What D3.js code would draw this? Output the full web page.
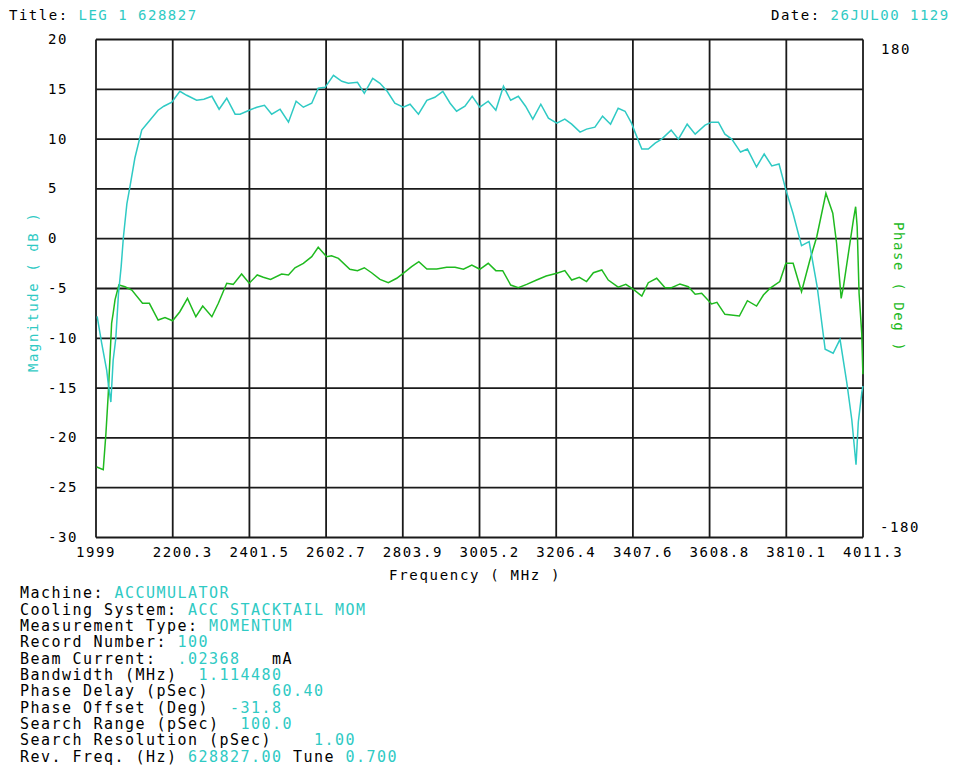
<!DOCTYPE html>
<html>
<head>
<meta charset="utf-8">
<script src="https://cdn.jsdelivr.net/npm/d3@7"></script>
<style>
  body { margin: 0; background: #fff; }
  svg text { font-family: "DejaVu Sans Mono", monospace; white-space: pre; }
</style>
</head>
<body>
<svg id="chart" width="953" height="767"></svg>
<script>
// tick labels
var freqTicks = ["1999", "2200.3", "2401.5", "2602.7", "2803.9", "3005.2", "3206.4", "3407.6", "3608.8", "3810.1", "4011.3"];
var magTicks = [20, 15, 10, 5, 0, -5, -10, -15, -20, -25, -30];
var phaseTicks = [180, -180];

// magnitude trace (MHz, dB)
var magFreq = [2002, 2014, 2027, 2032, 2038, 2044, 2051, 2058, 2065, 2071, 2080, 2088, 2101, 2119, 2136, 2162, 2177, 2198,
  2219, 2237, 2263, 2282, 2303, 2322, 2342, 2364, 2377, 2401, 2421, 2441, 2460, 2482, 2504, 2524, 2543, 2565, 2582, 2600,
  2622, 2644, 2661, 2685, 2703, 2725, 2744, 2763, 2783, 2805, 2823, 2845, 2867, 2888, 2909, 2928, 2945, 2967, 2986, 3006,
  3028, 3048, 3068, 3087, 3107, 3126, 3145, 3166, 3186, 3208, 3229, 3247, 3269, 3286, 3308, 3328, 3349, 3369, 3387, 3404,
  3413, 3431, 3448, 3466, 3483, 3508, 3527, 3550, 3571, 3597, 3614, 3632, 3649, 3667, 3690, 3708, 3732, 3752, 3772, 3791,
  3809, 3828, 3850, 3870, 3891, 3912, 3933, 3951, 3969, 3982, 3993, 3999, 4008, 4011];
var magDb = [-7.8, -10.5, -13.2, -14.8, -16.4, -12.2, -10.0, -5.5, -2.8, 0.2, 3.5, 5.2, 8.1, 10.9, 11.7, 12.9, 13.3, 13.7,
  14.8, 14.4, 13.9, 14.0, 14.3, 13.0, 14.1, 12.5, 12.5, 12.9, 13.2, 13.4, 12.5, 13.0, 11.7, 13.8, 13.2, 13.6, 15.1, 15.2,
  16.4, 15.8, 15.6, 15.7, 14.6, 16.1, 15.6, 14.8, 13.6, 13.2, 13.5, 12.5, 13.9, 14.2, 14.8, 13.6, 12.8, 13.3, 14.3, 13.2,
  13.8, 12.9, 15.3, 13.9, 14.3, 13.3, 12.0, 13.5, 12.1, 11.6, 12.0, 11.5, 10.7, 11.0, 11.2, 12.3, 11.5, 13.1, 12.8, 11.6,
  10.7, 9.0, 9.0, 9.6, 10.0, 10.9, 10.0, 11.5, 10.5, 11.4, 11.7, 11.7, 10.5, 10.0, 8.7, 9.0, 7.2, 8.5, 7.3, 7.5,
  4.9, 2.5, -0.7, -0.3, -4.8, -11.1, -11.5, -10.1, -14.5, -18.2, -22.7, -18.4, -15.5, -14.8];

// phase trace (MHz, deg)
var phaseFreq = [2001, 2018, 2025, 2031, 2040, 2044, 2049, 2059, 2075, 2093, 2121, 2139, 2162, 2180, 2200, 2219, 2239,
  2261, 2279, 2303, 2320, 2342, 2359, 2381, 2401, 2422, 2438, 2457, 2486, 2504, 2521, 2543, 2565, 2582, 2604, 2617, 2635,
  2665, 2685, 2703, 2722, 2744, 2766, 2788, 2805, 2827, 2846, 2867, 2893, 2919, 2941, 2963, 2985, 3006, 3028, 3048, 3066,
  3087, 3107, 3129, 3155, 3180, 3208, 3229, 3247, 3267, 3286, 3304, 3326, 3343, 3369, 3389, 3409, 3431, 3448, 3470, 3492,
  3509, 3531, 3553, 3571, 3588, 3614, 3628, 3649, 3687, 3708, 3732, 3750, 3767, 3793, 3809, 3828, 3850, 3872, 3890, 3914,
  3932, 3942, 3954, 3960, 3973, 3986, 3992, 3996, 4001, 4008, 4011];
var phaseDeg = [-129, -131, -105, -77, -25, -18, -8, 2.5, 1.3, -1.1, -10.7, -10.7, -22.8, -21, -23.3, -16.8, -7.1,
  -20.4, -12.7, -20.4, -10.7, 3.8, 3.0, 10.5, 3.8, 9.8, 8.1, 6.6, 10.5, 9.8, 15, 18.2, 23.0, 29.8, 23.0, 23.7, 21.8,
  13.9, 12.9, 15.0, 11.4, 6.6, 4.2, 7.4, 11.0, 15.8, 19.4, 14.1, 14.1, 15.3, 15.3, 13.9, 17.0, 13.9, 18.2, 12.9, 12.9,
  2.5, 0.6, 3.0, 6.1, 9.0, 11.0, 12.9, 6.1, 8.1, 5.0, 11.4, 13.4, 6.1, 1.0, 3.0, -0.6, -5.4, 4.2, 7.4, 0.6,
  0.6, 3.3, 1.3, -4.2, -3.5, -11.2, -10.0, -18.7, -19.9, -8.8, -12.7, -4.7, 0.1, 5.0, 18.2, 18.2, -2.3, 20.6, 37.4, 68.8,
  54.4, 32.7, -7.1, 1.3, 25.4, 49.5, 59.1, 44.7, -3.5, -32.4, -62];

// header + info block: [text, colour key]
var titleParts = [["Title: ", "k"], ["LEG 1 628827", "c"]];
var dateParts = [["Date: ", "k"], ["26JUL00 1129", "c"]];
var infoLines = [
  [["Machine: ", "k"], ["ACCUMULATOR", "c"]],
  [["Cooling System: ", "k"], ["ACC STACKTAIL MOM", "c"]],
  [["Measurement Type: ", "k"], ["MOMENTUM", "c"]],
  [["Record Number: ", "k"], ["100", "c"]],
  [["Beam Current:  ", "k"], [".02368", "c"], ["   mA", "k"]],
  [["Bandwidth (MHz)  ", "k"], ["1.114480", "c"]],
  [["Phase Delay (pSec)      ", "k"], ["60.40", "c"]],
  [["Phase Offset (Deg)  ", "k"], ["-31.8", "c"]],
  [["Search Range (pSec)  ", "k"], ["100.0", "c"]],
  [["Search Resolution (pSec)    ", "k"], ["1.00", "c"]],
  [["Rev. Freq. (Hz) ", "k"], ["628827.00", "c"], [" Tune ", "k"], ["0.700", "c"]]
];

var cyan = "#2fcac4";
var green = "#1fba1f";
var colours = { k: "#000", c: cyan };

var svg = d3.select("#chart");
var plotL = 96, plotR = 863, plotT = 39.5, plotB = 537.5;

var x = d3.scaleLinear().domain([1999, 4011.3]).range([plotL, plotR]);
var yMag = d3.scaleLinear().domain([-30, 20]).range([plotB, plotT]);
var yPh = d3.scaleLinear().domain([-180, 180]).range([plotB, plotT]);

// grid
var grid = svg.append("g").attr("stroke", "#1a1a1a").attr("stroke-width", 1.8);
grid.selectAll(".vx").data(freqTicks).enter().append("line")
    .attr("x1", d => x(+d)).attr("x2", d => x(+d))
    .attr("y1", plotT).attr("y2", plotB);
grid.selectAll(".hy").data(magTicks).enter().append("line")
    .attr("x1", plotL).attr("x2", plotR)
    .attr("y1", d => yMag(d)).attr("y2", d => yMag(d));

// curves
var magLine = d3.line().x((d, i) => x(magFreq[i])).y(d => yMag(d));
var phLine = d3.line().x((d, i) => x(phaseFreq[i])).y(d => yPh(d));

svg.append("path").datum(phaseDeg)
    .attr("d", phLine).attr("fill", "none")
    .attr("stroke", green).attr("stroke-width", 1.5);
svg.append("path").datum(magDb)
    .attr("d", magLine).attr("fill", "none")
    .attr("stroke", cyan).attr("stroke-width", 1.5);

// tick labels
var tickFont = function(sel) {
  sel.attr("font-size", 14).attr("letter-spacing", 1.6).attr("fill", "#000");
};
svg.selectAll(".xt").data(freqTicks).enter().append("text")
    .attr("x", d => x(+d) - 20).attr("y", 556.5)
    .call(tickFont).text(d => d);
svg.selectAll(".yt").data(magTicks).enter().append("text")
    .attr("x", 48).attr("y", d => yMag(d) + 4.5)
    .call(tickFont).text(d => d);
svg.selectAll(".pt").data(phaseTicks).enter().append("text")
    .attr("x", d => d > 0 ? 881 : 880).attr("y", d => d > 0 ? yPh(d) + 14.5 : yPh(d) - 6)
    .call(tickFont).text(d => d);

// axis titles
svg.append("text").attr("x", 389).attr("y", 580)
    .attr("font-size", 14).attr("letter-spacing", 1.7).attr("fill", "#000")
    .text("Frequency ( MHz )");
svg.append("text")
    .attr("transform", "translate(38,372) rotate(-90)")
    .attr("font-size", 14).attr("letter-spacing", 1.6).attr("fill", cyan)
    .text("Magnitude ( dB )");
svg.append("text")
    .attr("transform", "translate(894,222) rotate(90)")
    .attr("font-size", 14).attr("letter-spacing", 1.6).attr("fill", green)
    .text("Phase ( Deg )");

// header
function parts(sel, list) {
  list.forEach(function(p) {
    sel.append("tspan").attr("fill", colours[p[1]]).text(p[0]);
  });
}
svg.append("text").attr("x", 9).attr("y", 20)
    .attr("font-size", 14).attr("letter-spacing", 1.5)
    .call(parts, titleParts);
svg.append("text").attr("x", 771).attr("y", 20)
    .attr("font-size", 14).attr("letter-spacing", 1.5)
    .call(parts, dateParts);

// info block
infoLines.forEach(function(line, i) {
  svg.append("text").attr("x", 20).attr("y", 598.3 + i * 16.34)
      .attr("font-size", 15).attr("letter-spacing", 1.47)
      .call(parts, line);
});
</script>
</body>
</html>
